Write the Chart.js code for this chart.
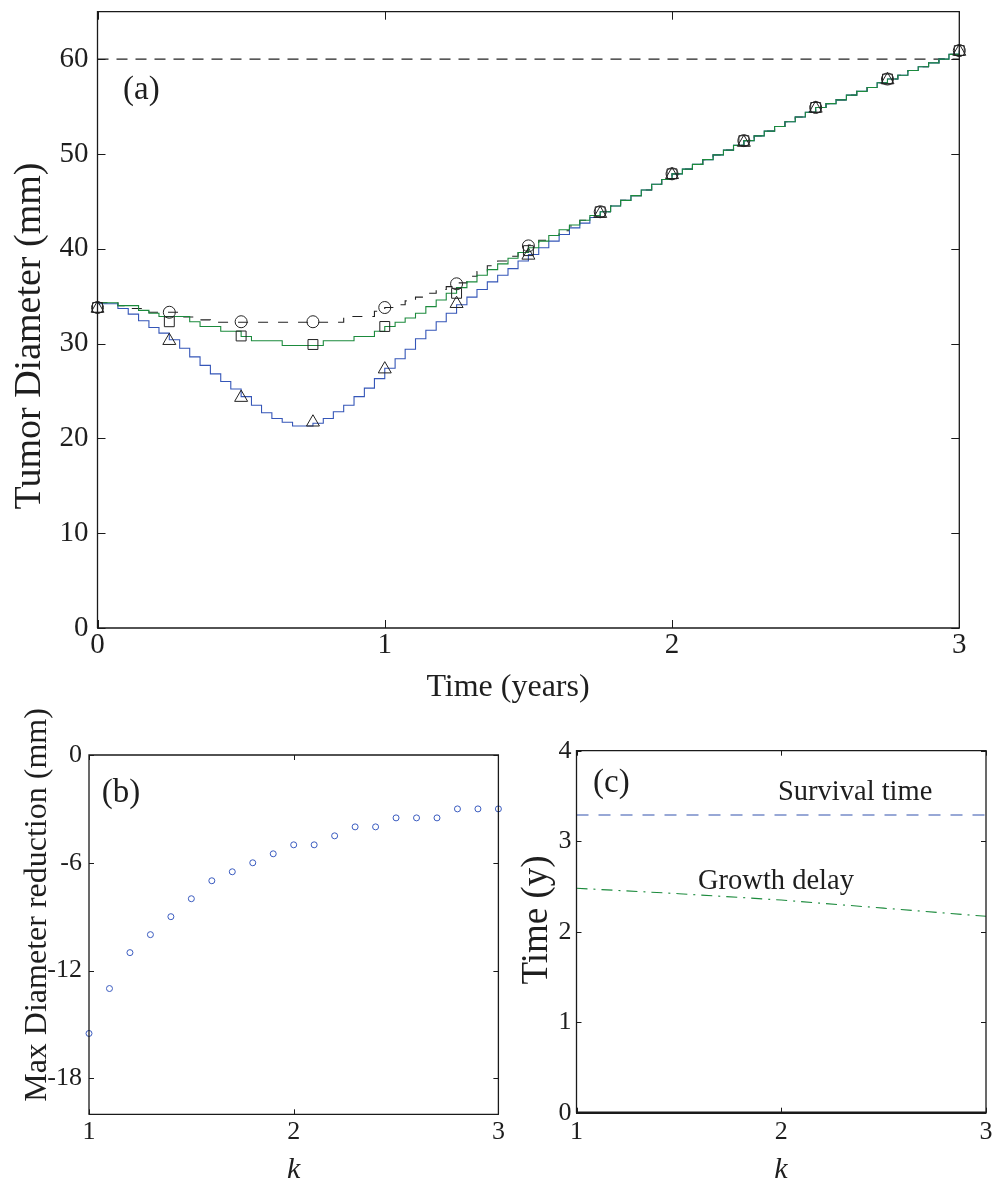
<!DOCTYPE html>
<html><head><meta charset="utf-8">
<script src="https://cdn.jsdelivr.net/npm/chart.js@4.4.1/dist/chart.umd.min.js"></script>
<style>
html,body{margin:0;padding:0;background:#fff;}
body{width:995px;height:1182px;position:relative;overflow:hidden;}
canvas{position:absolute;}
#ca{left:0;top:0;}
#cb{left:0;top:695px;}
#cc{left:500px;top:695px;}
</style></head><body>
<canvas id="ca" width="995" height="710"></canvas>
<canvas id="cb" width="530" height="487"></canvas>
<canvas id="cc" width="495" height="487"></canvas>
<script>
// ---------- Panel (a) data ----------
const timeA = [0,0.036,0.071,0.107,0.143,0.179,0.214,0.25,0.286,0.321,0.357,0.393,0.429,0.464,0.5,0.536,0.571,0.607,0.643,0.679,0.714,0.75,0.786,0.821,0.857,0.893,0.929,0.964,
1,1.036,1.071,1.107,1.143,1.179,1.214,1.25,1.286,1.321,1.357,1.393,1.429,1.464,1.5,1.536,1.571,1.607,1.643,1.679,1.714,1.75,1.786,1.821,1.857,1.893,1.929,1.964,
2,2.036,2.071,2.107,2.143,2.179,2.214,2.25,2.286,2.321,2.357,2.393,2.429,2.464,2.5,2.536,2.571,2.607,2.643,2.679,2.714,2.75,2.786,2.821,2.857,2.893,2.929,2.964,3];
const blueA = [34.2,34.2,33.7,33.1,32.4,31.7,31.1,30.4,29.5,28.6,27.7,26.8,26.0,25.2,24.4,23.5,22.7,22.1,21.7,21.3,21.3,21.6,22.1,22.8,23.5,24.4,25.3,26.3,
27.4,28.4,29.4,30.5,31.4,32.3,33.2,34.1,34.9,35.7,36.5,37.2,37.9,38.7,39.4,40.1,40.8,41.5,42.2,42.7,43.3,43.9,44.5,45.1,45.6,46.2,46.8,47.3,
47.9,48.4,48.9,49.4,49.9,50.4,50.9,51.4,51.9,52.4,52.9,53.4,53.9,54.4,54.9,55.3,55.7,56.2,56.6,57.0,57.5,57.9,58.3,58.8,59.2,59.6,60.0,60.5,60.9];
const greenA = [34.3,34.3,34.0,34.0,33.5,33.2,32.85,32.85,32.85,32.3,31.8,31.8,31.3,31.3,30.75,30.3,30.3,30.3,29.8,29.8,29.8,29.8,30.3,30.3,30.3,30.75,30.75,31.3,
31.8,32.25,32.7,33.2,33.9,34.6,35.3,35.9,36.5,37.2,37.8,38.4,39.0,39.6,40.1,40.8,41.4,42.0,42.5,43.0,43.5,43.9,44.5,45.1,45.6,46.2,46.8,47.3,
47.9,48.4,48.9,49.4,49.9,50.4,50.9,51.4,51.9,52.4,52.9,53.4,53.9,54.4,54.9,55.3,55.7,56.2,56.6,57.0,57.5,57.9,58.3,58.8,59.2,59.6,60.0,60.5,60.9];
const blackA = [34.3,34.3,34.0,33.7,33.7,33.3,33.3,33.3,32.8,32.8,32.5,32.25,32.25,32.25,32.25,32.25,32.25,32.25,32.25,32.25,32.25,32.25,32.25,32.25,32.85,32.85,32.85,33.4,
33.8,34.1,34.5,34.9,35.3,35.7,36.0,36.4,37.1,37.6,38.2,38.7,39.2,39.8,40.4,40.9,41.4,41.9,42.4,43.0,43.5,43.9,44.5,45.1,45.6,46.2,46.8,47.3,
47.9,48.4,48.9,49.4,49.9,50.4,50.9,51.4,51.9,52.4,52.9,53.4,53.9,54.4,54.9,55.3,55.7,56.2,56.6,57.0,57.5,57.9,58.3,58.8,59.2,59.6,60.0,60.5,60.9];
const markTimeA = [0,0.25,0.5,0.75,1,1.25,1.5,1.75,2,2.25,2.5,2.75,3];
const circleA   = [33.8,33.3,32.3,32.3,33.8,36.3,40.3,43.9,47.9,51.4,54.9,57.9,60.9];
const squareA   = [33.8,32.3,30.8,29.9,31.8,35.3,39.8,43.9,47.9,51.4,54.9,57.9,60.9];
const triangleA = [33.7,30.3,24.3,21.7,27.3,34.2,39.3,43.7,47.8,51.2,54.8,57.8,60.8];
const thresholdA = 60;
const xTicksA = [0,1,2,3];
const yTicksA = [0,10,20,30,40,50,60];

// ---------- Panel (b) data ----------
const kB = [1.0,1.1,1.2,1.3,1.4,1.5,1.6,1.7,1.8,1.9,2.0,2.1,2.2,2.3,2.4,2.5,2.6,2.7,2.8,2.9,3.0];
const reductionB = [-15.5,-13.0,-11.0,-10.0,-9.0,-8.0,-7.0,-6.5,-6.0,-5.5,-5.0,-5.0,-4.5,-4.0,-4.0,-3.5,-3.5,-3.5,-3.0,-3.0,-3.0];
const xTicksB = [1,2,3];
const yTicksB = [-18,-12,-6,0];

// ---------- Panel (c) data ----------
const kSurvC = [1,3];
const survivalC = [3.29,3.29];
const kDelayC = [1,1.5,2,2.5,3];
const delayC = [2.48,2.42,2.35,2.26,2.17];
const xTicksC = [1,2,3];
const yTicksC = [0,1,2,3,4];

// ---------- helpers ----------
const FONT = '"Liberation Serif", "Times New Roman", serif';
const TXT = '#1e1e1e';
const pts = (xs, ys) => xs.map((x, i) => ({x, y: ys[i]}));
const fixTicks = arr => (s => { s.ticks = arr.map(v => ({value: v})); });

const framePlugin = {
  id: 'frame',
  afterDraw(chart, args, o) {
    const {ctx, chartArea: a, scales} = chart;
    ctx.save();
    ctx.strokeStyle = '#1a1a1a';
    ctx.lineWidth = o.lw;
    ctx.beginPath();
    ctx.moveTo(a.left, a.bottom); ctx.lineTo(a.left, a.top); ctx.lineTo(a.right, a.top); ctx.lineTo(a.right, a.bottom);
    ctx.stroke();
    ctx.lineWidth = o.bw || o.lw;
    ctx.beginPath(); ctx.moveTo(a.left - 0.5, a.bottom); ctx.lineTo(a.right + 0.5, a.bottom); ctx.stroke();
    ctx.lineWidth = 1;
    const L = o.tick;
    ctx.beginPath();
    scales.x.ticks.forEach(t => {
      const x = Math.round(scales.x.getPixelForValue(t.value)) + 0.5;
      ctx.moveTo(x, a.bottom); ctx.lineTo(x, a.bottom - L);
      ctx.moveTo(x, a.top); ctx.lineTo(x, a.top + L);
    });
    scales.y.ticks.forEach(t => {
      const y = Math.round(scales.y.getPixelForValue(t.value)) + 0.5;
      ctx.moveTo(a.left, y); ctx.lineTo(a.left + L, y);
      ctx.moveTo(a.right, y); ctx.lineTo(a.right - L, y);
    });
    ctx.stroke();
    (o.texts || []).forEach(t => {
      ctx.save();
      ctx.font = (t.italic ? 'italic ' : '') + t.size + 'px ' + FONT;
      ctx.fillStyle = TXT;
      ctx.textAlign = t.align || 'center';
      ctx.textBaseline = 'middle';
      ctx.translate(t.x, t.y);
      if (t.rot) ctx.rotate(t.rot);
      ctx.fillText(t.text, 0, 0);
      ctx.restore();
    });
    ctx.restore();
  }
};

function axis(min, max, ticks, size, pad, fit) {
  return {
    type: 'linear', min, max,
    afterBuildTicks: fixTicks(ticks),
    afterFit: s => { fit(s); s.paddingTop = 0; s.paddingBottom = 0; s.paddingLeft = 0; s.paddingRight = 0; },
    grid: {display: false, drawTicks: false},
    border: {display: false},
    ticks: {color: TXT, font: {family: FONT, size, lineHeight: 1.2}, padding: pad, autoSkip: false, maxRotation: 0,
            callback: v => String(v)},
    title: {display: false}
  };
}

Chart.defaults.animation = false;

// ---------- Chart (a) ----------
new Chart(document.getElementById('ca'), {
  type: 'scatter',
  data: {
    datasets: [
      {data: pts(markTimeA, circleA), pointStyle: 'circle', pointRadius: 6, borderColor: '#222', backgroundColor: 'rgba(0,0,0,0)', borderWidth: 1, showLine: false, clip: false},
      {data: pts(markTimeA, squareA), pointStyle: 'rect', pointRadius: 7, borderColor: '#222', backgroundColor: 'rgba(0,0,0,0)', borderWidth: 1, showLine: false, clip: false},
      {data: pts(markTimeA, triangleA), pointStyle: 'triangle', pointRadius: 7.5, borderColor: '#222', backgroundColor: 'rgba(0,0,0,0)', borderWidth: 1, showLine: false, clip: false},
      {data: pts(timeA, greenA), showLine: true, stepped: true, pointRadius: 0, borderColor: '#1b8a3c', borderWidth: 1.1},
      {data: pts(timeA, blueA), showLine: true, stepped: true, pointRadius: 0, borderColor: '#3556b8', borderWidth: 1.1},
      {data: pts(timeA, blackA), showLine: true, stepped: true, pointRadius: 0, borderColor: '#222', borderWidth: 1.1, borderDash: [10, 10]},
      {data: pts([0, 3], [thresholdA, thresholdA]), showLine: true, pointRadius: 0, borderColor: '#222', borderWidth: 1.2, borderDash: [11, 8]}
    ]
  },
  options: {
    responsive: false, devicePixelRatio: 1,
    layout: {padding: {left: 0, top: 11.7, right: 35.7, bottom: 0}},
    plugins: {legend: {display: false}, tooltip: {enabled: false},
      frame: {lw: 1.3, tick: 8, texts: [
        {text: '(a)', x: 123, y: 90, size: 33, align: 'left'},
        {text: 'Tumor Diameter (mm)', x: 30, y: 336, size: 38, rot: -Math.PI / 2},
        {text: 'Time (years)', x: 508, y: 688, size: 32}
      ]}},
    scales: {
      x: axis(0, 3, xTicksA, 29, 0, s => { s.height = 82; }),
      y: axis(0, 65, yTicksA, 29, 9, s => { s.width = 97.5; })
    }
  },
  plugins: [framePlugin]
});

// ---------- Chart (b) ----------
new Chart(document.getElementById('cb'), {
  type: 'scatter',
  data: {
    datasets: [
      {data: pts(kB, reductionB), pointStyle: 'circle', pointRadius: 3, borderColor: '#3a5bbf', backgroundColor: 'rgba(0,0,0,0)', borderWidth: 1, clip: false}
    ]
  },
  options: {
    responsive: false, devicePixelRatio: 1,
    layout: {padding: {left: 0, top: 60, right: 31.6, bottom: 0}},
    plugins: {legend: {display: false}, tooltip: {enabled: false},
      frame: {lw: 1.3, tick: 5, texts: [
        {text: '(b)', x: 101.7, y: 98, size: 33, align: 'left'},
        {text: 'Max Diameter reduction (mm)', x: 38, y: 210, size: 32, rot: -Math.PI / 2},
        {text: 'k', x: 293.7, y: 475, size: 30, italic: true}
      ]}},
    scales: {
      x: axis(1, 3, xTicksB, 26, 2, s => { s.height = 67.7; }),
      y: axis(-20, 0, yTicksB, 26, 7, s => { s.width = 89; })
    }
  },
  plugins: [framePlugin]
});

// ---------- Chart (c) ----------
new Chart(document.getElementById('cc'), {
  type: 'scatter',
  data: {
    datasets: [
      {data: pts(kSurvC, survivalC), showLine: true, pointRadius: 0, borderColor: '#3353ad', borderWidth: 1.1, borderDash: [12, 10]},
      {data: pts(kDelayC, delayC), showLine: true, pointRadius: 0, borderColor: '#1b8a3c', borderWidth: 1.1, borderDash: [11, 6, 2, 6]}
    ]
  },
  options: {
    responsive: false, devicePixelRatio: 1,
    layout: {padding: {left: 0, top: 55.7, right: 9, bottom: 0}},
    plugins: {legend: {display: false}, tooltip: {enabled: false},
      frame: {lw: 1.3, bw: 2.5, tick: 5, texts: [
        {text: '(c)', x: 93, y: 88, size: 33, align: 'left'},
        {text: 'Survival time', x: 278, y: 98, size: 28.5, align: 'left'},
        {text: 'Growth delay', x: 198, y: 186.7, size: 28.5, align: 'left'},
        {text: 'Time (y)', x: 37, y: 225, size: 37, rot: -Math.PI / 2},
        {text: 'k', x: 281, y: 475, size: 30, italic: true}
      ]}},
    scales: {
      x: axis(1, 3, xTicksC, 26, 3.4, s => { s.height = 69.3; }),
      y: axis(0, 4, yTicksC, 26, 5, s => { s.width = 76.5; })
    }
  },
  plugins: [framePlugin]
});
</script>
</body></html>
